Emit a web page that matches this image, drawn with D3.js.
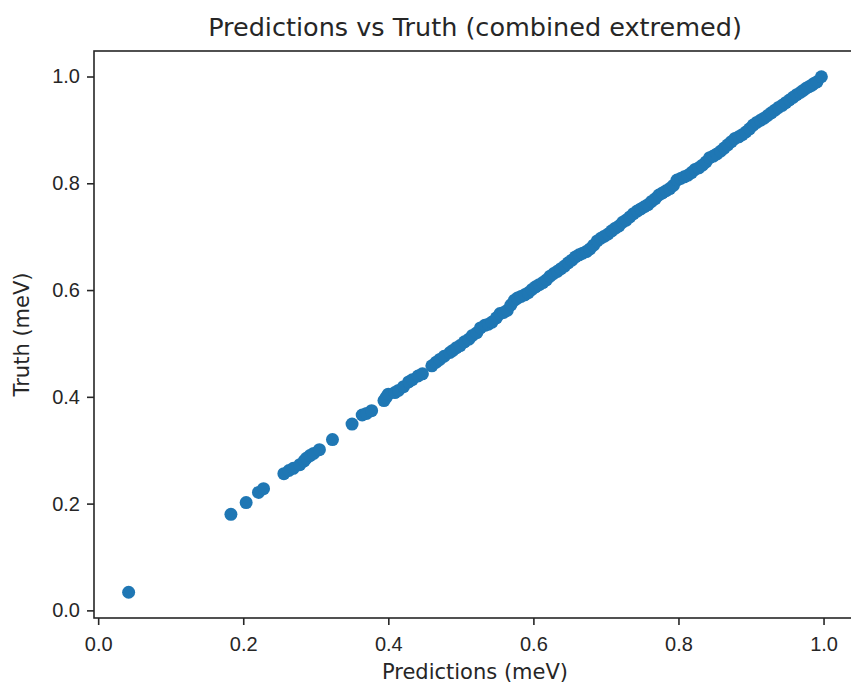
<!DOCTYPE html>
<meta charset="utf-8">
<style type="text/css">
body {
  margin: 0;
  background: #fff;
  font-family: "DejaVu Sans", sans-serif;
}

.axis text {
  font-size: 20px;
  fill: #262626;
}

.axis path,
.axis line {
  fill: none;
  stroke: #262626;
  stroke-width: 1.6px;
}

.label {
  font-size: 21px;
  fill: #262626;
}

.title {
  font-size: 25.5px;
  fill: #262626;
}
</style>
<body>
</body>

<script src="https://cdn.jsdelivr.net/npm/d3@7"></script>
<script>
var title = "Predictions vs Truth (combined extremed)";
var xLabel = "Predictions (meV)";
var yLabel = "Truth (meV)";

var xTicks = [0.0, 0.2, 0.4, 0.6, 0.8, 1.0];
var yTicks = [0.0, 0.2, 0.4, 0.6, 0.8, 1.0];

var predictions = [
  0.042, 0.183, 0.204, 0.221, 0.228, 0.256, 0.263, 0.269, 0.278, 0.284,
  0.287, 0.292, 0.297, 0.305, 0.323, 0.350, 0.364, 0.370, 0.377, 0.394,
  0.397, 0.400, 0.409, 0.414, 0.421, 0.428, 0.433, 0.441, 0.447, 0.460,
  0.466, 0.471, 0.477, 0.485, 0.489, 0.494, 0.499, 0.505, 0.511, 0.516,
  0.522, 0.527, 0.533, 0.538, 0.543, 0.549, 0.554, 0.559, 0.564, 0.569,
  0.574, 0.578, 0.583, 0.588, 0.593, 0.598, 0.603, 0.608, 0.613, 0.618,
  0.623, 0.628, 0.633, 0.638, 0.643, 0.648, 0.653, 0.658, 0.663, 0.668,
  0.673, 0.678, 0.683, 0.688, 0.693, 0.698, 0.703, 0.708, 0.713, 0.718,
  0.723, 0.728, 0.733, 0.738, 0.743, 0.748, 0.753, 0.758, 0.763, 0.768,
  0.773, 0.778, 0.783, 0.788, 0.793, 0.798, 0.803, 0.808, 0.813, 0.818,
  0.823, 0.828, 0.833, 0.838, 0.843, 0.848, 0.853, 0.858, 0.863, 0.868,
  0.873, 0.878, 0.883, 0.888, 0.893, 0.898, 0.903, 0.908, 0.913, 0.918,
  0.923, 0.928, 0.933, 0.938, 0.943, 0.948, 0.953, 0.958, 0.963, 0.968,
  0.972, 0.976, 0.980, 0.984, 0.987, 0.991, 0.997
];

var truth = [
  0.034, 0.180, 0.202, 0.221, 0.228, 0.256, 0.262, 0.266, 0.273, 0.280,
  0.285, 0.290, 0.294, 0.301, 0.320, 0.349, 0.366, 0.369, 0.374, 0.393,
  0.399, 0.405, 0.408, 0.412, 0.419, 0.428, 0.432, 0.439, 0.443, 0.458,
  0.465, 0.470, 0.476, 0.483, 0.487, 0.492, 0.496, 0.503, 0.508, 0.515,
  0.520, 0.529, 0.534, 0.536, 0.540, 0.548, 0.556, 0.558, 0.562, 0.572,
  0.581, 0.585, 0.588, 0.591, 0.595, 0.601, 0.606, 0.610, 0.614, 0.619,
  0.626, 0.631, 0.635, 0.640, 0.645, 0.651, 0.656, 0.662, 0.666, 0.669,
  0.672, 0.677, 0.684, 0.692, 0.697, 0.701, 0.705, 0.711, 0.716, 0.720,
  0.727, 0.731, 0.737, 0.743, 0.748, 0.752, 0.756, 0.760, 0.766, 0.771,
  0.778, 0.782, 0.786, 0.790, 0.796, 0.806, 0.809, 0.812, 0.815, 0.820,
  0.826, 0.829, 0.834, 0.840, 0.848, 0.851, 0.855, 0.860, 0.866, 0.872,
  0.878, 0.884, 0.887, 0.891, 0.896, 0.902, 0.909, 0.914, 0.918, 0.922,
  0.927, 0.932, 0.937, 0.942, 0.946, 0.951, 0.956, 0.961, 0.966, 0.970,
  0.974, 0.978, 0.981, 0.984, 0.987, 0.990, 0.9995
];

var width = 851, height = 684;
var plot = { left: 94, right: 856, top: 51, bottom: 618 };

var svg = d3.select("body")
  .append("svg")
    .attr("width", width)
    .attr("height", height);

svg.append("rect")
  .attr("width", width)
  .attr("height", height)
  .attr("fill", "#fff");

// 5% padding round the data, like matplotlib's default margins
function padded(values) {
  var ext = d3.extent(values);
  var span = ext[1] - ext[0];
  return [ext[0] - 0.05 * span, ext[1] + 0.05 * span];
}

var xscale = d3.scaleLinear()
  .domain(padded(predictions))
  .range([plot.left, plot.right]);

var yscale = d3.scaleLinear()
  .domain(padded(truth))
  .range([plot.bottom, plot.top]);

var xAxis = d3.axisBottom(xscale)
  .tickValues(xTicks)
  .tickSize(7)
  .tickPadding(7)
  .tickSizeOuter(0)
  .tickFormat(d3.format(".1f"));

var yAxis = d3.axisLeft(yscale)
  .tickValues(yTicks)
  .tickSize(7)
  .tickPadding(7)
  .tickSizeOuter(0)
  .tickFormat(d3.format(".1f"));

var gx = svg.append("g")
  .attr("class", "x axis")
  .attr("transform", "translate(0," + plot.bottom + ")")
  .call(xAxis);
gx.select(".domain").remove();
gx.selectAll("text").attr("dy", "0.95em");

var gy = svg.append("g")
  .attr("class", "y axis")
  .attr("transform", "translate(" + plot.left + ",0)")
  .call(yAxis);
gy.select(".domain").remove();

// frame
svg.append("rect")
  .attr("x", plot.left)
  .attr("y", plot.top)
  .attr("width", plot.right - plot.left)
  .attr("height", plot.bottom - plot.top)
  .attr("fill", "none")
  .attr("stroke", "#262626")
  .attr("stroke-width", 1.6);

var points = predictions.map(function(p, i) { return { x: p, y: truth[i] }; });

svg.append("g")
  .selectAll("circle")
  .data(points)
  .enter().append("circle")
    .attr("cx", function(d) { return xscale(d.x); })
    .attr("cy", function(d) { return yscale(d.y); })
    .attr("r", 6.5)
    .attr("fill", "#1f77b4");

svg.append("text")
  .attr("class", "title")
  .attr("x", (plot.left + plot.right) / 2)
  .attr("y", 36)
  .attr("text-anchor", "middle")
  .text(title);

svg.append("text")
  .attr("class", "label")
  .attr("x", (plot.left + plot.right) / 2)
  .attr("y", 679)
  .attr("text-anchor", "middle")
  .text(xLabel);

svg.append("text")
  .attr("class", "label")
  .attr("transform", "translate(29," + (plot.top + plot.bottom) / 2 + ") rotate(-90)")
  .attr("text-anchor", "middle")
  .text(yLabel);
</script>
